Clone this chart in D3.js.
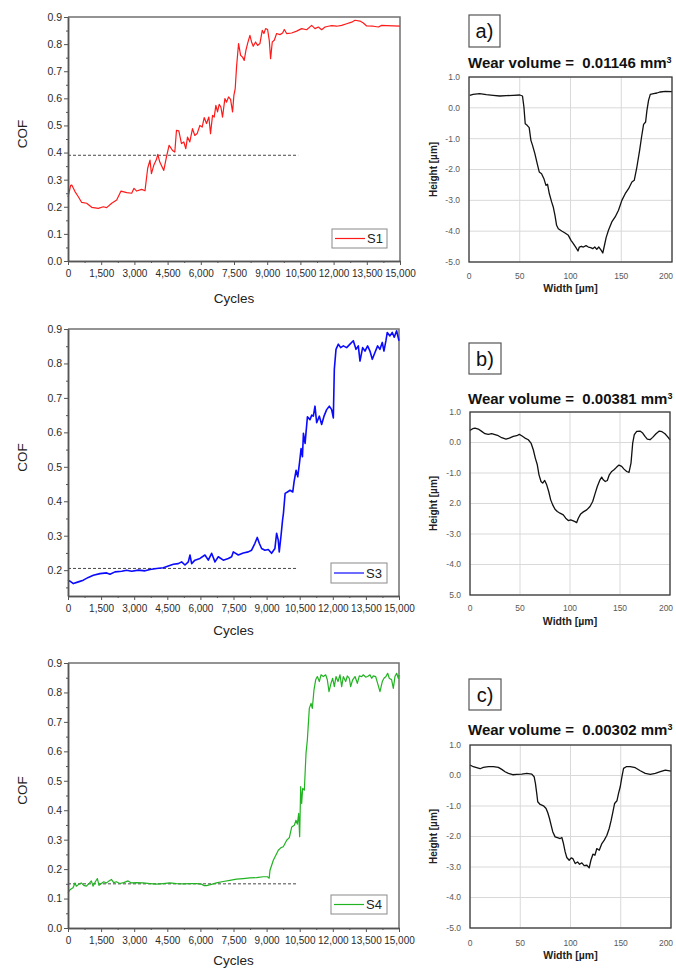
<!DOCTYPE html>
<html>
<head>
<meta charset="utf-8">
<script src="https://cdn.jsdelivr.net/npm/d3@7"></script>
<style>
  body { margin: 0; background: #fff; }
  svg { display: block; font-family: Arial, "Liberation Sans", sans-serif; }
</style>
</head>
<body>
<svg id="fig" width="676" height="969"></svg>
<script>
// ---------- tick definitions ----------
const cycleTicks = [0, 1500, 3000, 4500, 6000, 7500, 9000, 10500, 12000, 13500, 15000];
const cycleMinorTicks = [750, 2250, 3750, 5250, 6750, 8250, 9750, 11250, 12750, 14250];
const cofTicksFull = [0, 0.1, 0.2, 0.3, 0.4, 0.5, 0.6, 0.7, 0.8, 0.9];
const cofMinorFull = [0.05, 0.15, 0.25, 0.35, 0.45, 0.55, 0.65, 0.75, 0.85];
const cofTicksS3 = [0.2, 0.3, 0.4, 0.5, 0.6, 0.7, 0.8, 0.9];
const cofMinorS3 = [0.15, 0.25, 0.35, 0.45, 0.55, 0.65, 0.75, 0.85];

const heightTicks = [1, 0, -1, -2, -3, -4, -5];
const heightLabelsA = ["1.0", "0.0", "-1.0", "-2.0", "-3.0", "-4.0", "-5.0"];
const heightLabelsB = ["1.0", "0.0", "-1.0", "2.0", "-3.0", "-4.0", "5.0"];
const heightLabelsC = ["1.0", "0.0", "-1.0", "-2.0", "-3.0", "-4.0", "-5.0"];
const widthTicks = [0, 50, 100, 150, 200];

// ---------- series labels / reference levels ----------
const seriesNames = ["S1", "S3", "S4"];
const refLevels = [0.39, 0.205, 0.15];
const refEndCycle = 10400;
const panelTags = ["a)", "b)", "c)"];
const wearVolumes = ["0.01146", "0.00381", "0.00302"];

// ---------- COF vs cycles: [cycle, COF] ----------
const s1Data = [[0,0.236],[120,0.279],[170,0.280],[316,0.256],[467,0.237],[618,0.216],[843,0.213],[1070,0.198],[1370,0.194],[1595,0.200],[1748,0.197],[1974,0.213],[2200,0.225],[2395,0.258],[2652,0.252],[2878,0.250],[2982,0.268],[3103,0.258],[3329,0.264],[3479,0.259],[3600,0.342],[3705,0.372],[3770,0.322],[3875,0.353],[3996,0.374],[4057,0.393],[4147,0.365],[4328,0.334],[4449,0.384],[4569,0.427],[4720,0.408],[4826,0.402],[4901,0.482],[5007,0.480],[5127,0.433],[5233,0.439],[5323,0.414],[5399,0.457],[5504,0.439],[5625,0.488],[5730,0.463],[5836,0.470],[5957,0.500],[6062,0.494],[6153,0.529],[6258,0.507],[6364,0.531],[6439,0.470],[6530,0.537],[6605,0.531],[6681,0.574],[6756,0.550],[6831,0.578],[6907,0.568],[6982,0.531],[7088,0.599],[7163,0.586],[7254,0.605],[7344,0.596],[7435,0.550],[7495,0.611],[7555,0.636],[7615,0.716],[7706,0.802],[7797,0.759],[7887,0.752],[7962,0.740],[8038,0.777],[8113,0.802],[8219,0.832],[8294,0.808],[8369,0.792],[8475,0.808],[8565,0.795],[8671,0.802],[8777,0.851],[8852,0.839],[8927,0.857],[9018,0.854],[9093,0.814],[9154,0.746],[9229,0.808],[9320,0.814],[9425,0.839],[9576,0.835],[9697,0.841],[9772,0.854],[9878,0.839],[10104,0.841],[10330,0.848],[10556,0.857],[10783,0.853],[11009,0.869],[11160,0.857],[11310,0.863],[11461,0.853],[11612,0.863],[11763,0.866],[11913,0.868],[12139,0.866],[12364,0.869],[12590,0.875],[12816,0.881],[12967,0.888],[13193,0.885],[13343,0.878],[13494,0.867],[13795,0.866],[14021,0.863],[14172,0.869],[14398,0.868],[14699,0.867],[15000,0.866]];

const s3Data = [[0,0.171],[90,0.168],[242,0.161],[468,0.166],[695,0.171],[921,0.179],[1148,0.185],[1450,0.190],[1752,0.192],[1903,0.188],[2130,0.195],[2432,0.197],[2658,0.200],[2885,0.197],[3187,0.200],[3489,0.198],[3716,0.202],[4018,0.205],[4320,0.207],[4546,0.212],[4773,0.217],[4999,0.219],[5150,0.224],[5302,0.215],[5452,0.224],[5528,0.244],[5603,0.219],[5754,0.229],[5981,0.234],[6207,0.244],[6358,0.229],[6509,0.249],[6660,0.224],[6811,0.239],[7038,0.229],[7264,0.234],[7415,0.239],[7490,0.253],[7717,0.244],[7943,0.250],[8170,0.253],[8320,0.258],[8471,0.278],[8577,0.295],[8668,0.278],[8773,0.263],[8924,0.258],[9075,0.260],[9226,0.249],[9377,0.263],[9453,0.307],[9528,0.287],[9573,0.253],[9649,0.297],[9724,0.346],[9763,0.365],[9839,0.423],[9944,0.427],[10065,0.432],[10186,0.427],[10246,0.457],[10337,0.490],[10412,0.471],[10488,0.510],[10563,0.553],[10624,0.529],[10669,0.597],[10744,0.568],[10790,0.602],[10850,0.645],[10967,0.637],[11046,0.650],[11118,0.647],[11193,0.676],[11269,0.628],[11390,0.647],[11495,0.623],[11601,0.647],[11722,0.666],[11843,0.676],[11948,0.666],[12024,0.642],[12069,0.783],[12145,0.841],[12251,0.856],[12356,0.846],[12477,0.851],[12628,0.846],[12779,0.856],[12930,0.866],[13050,0.841],[13156,0.851],[13232,0.807],[13352,0.846],[13458,0.836],[13578,0.851],[13684,0.836],[13790,0.812],[13910,0.832],[14031,0.851],[14136,0.841],[14242,0.861],[14317,0.836],[14408,0.866],[14468,0.890],[14589,0.880],[14695,0.890],[14785,0.876],[14891,0.895],[15000,0.866]];

const s4Data = [[0,0.120],[106,0.131],[227,0.137],[318,0.153],[378,0.142],[499,0.149],[605,0.153],[711,0.145],[832,0.142],[953,0.151],[1058,0.160],[1134,0.142],[1240,0.157],[1331,0.168],[1406,0.145],[1512,0.151],[1618,0.157],[1739,0.153],[1860,0.160],[1966,0.165],[2071,0.154],[2192,0.157],[2344,0.151],[2525,0.154],[2722,0.160],[2873,0.153],[3100,0.154],[3402,0.153],[3704,0.151],[4007,0.149],[4309,0.151],[4612,0.153],[4914,0.151],[5216,0.150],[5519,0.151],[5821,0.151],[6048,0.149],[6154,0.144],[6275,0.144],[6502,0.148],[6728,0.153],[7031,0.158],[7333,0.162],[7636,0.166],[7938,0.168],[8240,0.170],[8543,0.171],[8845,0.174],[9040,0.174],[9117,0.169],[9154,0.196],[9305,0.230],[9531,0.264],[9653,0.273],[9756,0.276],[9911,0.298],[10030,0.307],[10137,0.343],[10257,0.349],[10332,0.366],[10393,0.353],[10453,0.389],[10498,0.310],[10544,0.480],[10589,0.423],[10635,0.474],[10710,0.468],[10786,0.593],[10846,0.638],[10936,0.746],[11013,0.763],[11072,0.746],[11148,0.809],[11224,0.843],[11299,0.854],[11390,0.837],[11465,0.860],[11571,0.854],[11677,0.860],[11752,0.843],[11828,0.803],[11918,0.831],[11994,0.848],[12069,0.820],[12145,0.854],[12236,0.837],[12326,0.860],[12402,0.820],[12477,0.854],[12583,0.837],[12658,0.856],[12749,0.848],[12809,0.820],[12900,0.843],[13006,0.854],[13112,0.831],[13202,0.856],[13308,0.854],[13383,0.860],[13489,0.852],[13579,0.854],[13685,0.860],[13760,0.848],[13836,0.856],[13941,0.854],[14032,0.831],[14138,0.803],[14243,0.837],[14319,0.848],[14409,0.854],[14485,0.865],[14560,0.848],[14666,0.843],[14742,0.814],[14817,0.854],[14893,0.865],[14968,0.848],[15000,0.860]];

// ---------- wear track profiles: [width µm, height µm] ----------
const profileA = [[0.7,0.405],[4,0.438],[10.5,0.459],[17.1,0.427],[23.7,0.405],[30.3,0.384],[36.9,0.395],[43.5,0.405],[50.1,0.416],[52.7,0.384],[54.1,0.027],[55.4,-0.514],[57.3,-0.568],[59.3,-0.643],[61,-1.054],[62.6,-1.216],[64.9,-1.486],[67.2,-1.81],[69.2,-2.08],[71.5,-2.135],[73.8,-2.297],[75.8,-2.514],[77.4,-2.48],[79.1,-2.78],[81.4,-3.05],[83,-3.216],[84.7,-3.486],[86.3,-3.81],[88,-3.92],[91.3,-3.995],[94.6,-4.06],[97.9,-4.135],[100.5,-4.297],[102.8,-4.405],[105.4,-4.535],[107.4,-4.643],[108.7,-4.514],[110.7,-4.49],[112.7,-4.514],[115.3,-4.47],[117.6,-4.514],[119.9,-4.535],[121.9,-4.568],[123.9,-4.514],[125.9,-4.589],[127.8,-4.514],[129.8,-4.6],[131.8,-4.708],[133.1,-4.514],[135.1,-4.211],[137.4,-3.97],[140.7,-3.70],[144,-3.54],[147.3,-3.324],[150.6,-3.0],[153.9,-2.784],[157.2,-2.622],[160.5,-2.405],[162.8,-2.35],[165.4,-1.919],[168.1,-1.378],[170,-0.946],[172,-0.535],[174,-0.459],[175.3,-0.081],[176.9,0.243],[178.6,0.438],[181.9,0.459],[185.2,0.481],[188.5,0.514],[193.4,0.535],[200,0.524]];

const profileB = [[0,0.398],[2.7,0.452],[5,0.474],[8.3,0.441],[11.7,0.365],[15,0.288],[18.3,0.266],[21.7,0.288],[25,0.255],[28.3,0.222],[31.7,0.157],[36,0.113],[39.3,0.146],[43.3,0.2],[46.7,0.222],[49.3,0.266],[51.7,0.222],[55,0.146],[58.3,0.091],[61,-0.019],[63.3,-0.238],[65.3,-0.511],[67.3,-0.731],[69,-1.06],[71,-1.278],[72.7,-1.333],[74.7,-1.245],[76.7,-1.388],[78.7,-1.607],[80.7,-1.881],[82.7,-2.045],[85,-2.187],[87.3,-2.264],[90,-2.318],[93.3,-2.373],[95.7,-2.483],[98.3,-2.56],[100.7,-2.538],[102.7,-2.56],[105,-2.593],[106.7,-2.626],[108.3,-2.483],[110.7,-2.341],[113.3,-2.275],[116.7,-2.209],[120,-2.1],[122.7,-1.935],[125,-1.683],[127.3,-1.442],[130,-1.223],[131.7,-1.136],[133.3,-1.223],[135.3,-1.278],[137.3,-1.245],[139.3,-1.06],[141.7,-0.95],[144,-0.895],[146.7,-0.807],[149,-0.741],[151.7,-0.785],[154,-0.873],[156.7,-0.95],[159,-0.982],[161,-0.676],[162.7,-0.019],[164.3,0.255],[166.7,0.365],[170,0.376],[172.7,0.31],[175,0.2],[177.3,0.113],[180,0.091],[182.7,0.168],[186,0.288],[189.3,0.376],[192,0.354],[195,0.288],[197.3,0.2],[200,0.091]];

const profileC = [[0,0.343],[3.3,0.288],[6.6,0.255],[10,0.222],[13.3,0.266],[18.3,0.288],[23.3,0.288],[28.2,0.266],[31.6,0.2],[34.9,0.124],[38.2,0.069],[42.5,0.025],[46.5,0.036],[51.5,0.047],[56.5,0.069],[61.5,0.047],[63.8,-0.04],[65.1,-0.26],[66.4,-0.588],[67.4,-0.862],[69.8,-0.95],[73.1,-0.993],[75.7,-1.08],[77.4,-1.223],[79.1,-1.41],[80.7,-1.63],[82.4,-1.85],[84.7,-2.012],[87,-2.034],[89.7,-2.067],[91.4,-2.034],[93,-2.23],[94.7,-2.505],[96.3,-2.69],[98.7,-2.779],[100.7,-2.7],[102.3,-2.724],[104.7,-2.888],[107,-2.833],[109,-2.91],[111.3,-2.866],[113.6,-2.954],[116.3,-2.943],[118.6,-3.03],[120.3,-2.779],[122.3,-2.58],[124.3,-2.614],[126.2,-2.395],[128.6,-2.45],[131.2,-2.23],[133.6,-2.12],[136.2,-1.957],[138.5,-1.738],[140.5,-1.464],[142.2,-1.19],[143.9,-0.917],[146.2,-0.829],[147.8,-0.588],[149.5,-0.369],[151.2,-0.04],[152.8,0.233],[155.5,0.288],[159.5,0.288],[164.5,0.255],[169.4,0.157],[174.4,0.069],[179.4,0.036],[184.4,0.069],[189.4,0.124],[194.4,0.178],[200,0.146]];

const svg = d3.select("#fig");
const pageWidth = +svg.attr("width");
const fmtCycles = d3.format(",");
const fmtCof = d3.format(".1f");

// ---------- COF panel ----------
function drawCof(p) {
  const g = svg.append("g");
  const x = d3.scaleLinear().domain([0, 15000]).range([p.left, p.right]);
  const y = d3.scaleLinear().domain(p.yDomain).range([p.bottom, p.top]);

  // top and right frame
  g.append("path")
    .attr("d", `M${p.left},${p.top}H${p.right}V${p.bottom}`)
    .attr("fill", "none").attr("stroke", "#707070").attr("stroke-width", 1.5);

  // reference level
  g.append("line")
    .attr("x1", x(0)).attr("x2", x(refEndCycle))
    .attr("y1", y(p.ref)).attr("y2", y(p.ref))
    .attr("stroke", "#333").attr("stroke-width", 0.9)
    .attr("stroke-dasharray", "3,2");

  // series
  const line = d3.line().x(d => x(d[0])).y(d => y(d[1]));
  g.append("path").datum(p.data)
    .attr("d", line).attr("fill", "none")
    .attr("stroke", p.color).attr("stroke-width", p.lineWidth)
    .attr("stroke-linejoin", "round");

  // axes
  const axStyle = sel => {
    sel.selectAll(".domain").attr("stroke", "#555").attr("stroke-width", 1.5);
    sel.selectAll(".tick line").attr("stroke", "#555").attr("stroke-width", 1);
    sel.selectAll("text").attr("fill", "#2a2a2a").attr("font-size", 10.5)
      .attr("font-family", 'Arial, "Liberation Sans", sans-serif');
  };
  g.append("g").attr("transform", `translate(${p.left},0)`)
    .call(d3.axisLeft(y).tickValues(p.yMinor).tickFormat("").tickSize(2).tickSizeOuter(0))
    .call(axStyle);
  g.append("g").attr("transform", `translate(${p.left},0)`)
    .call(d3.axisLeft(y).tickValues(p.yTicks).tickFormat(fmtCof).tickSize(4).tickPadding(2).tickSizeOuter(0))
    .call(axStyle);
  g.append("g").attr("transform", `translate(0,${p.bottom})`)
    .call(d3.axisBottom(x).tickValues(cycleMinorTicks).tickFormat("").tickSize(2).tickSizeOuter(0))
    .call(axStyle);
  g.append("g").attr("transform", `translate(0,${p.bottom})`)
    .call(d3.axisBottom(x).tickValues(cycleTicks).tickFormat(fmtCycles).tickSize(4).tickPadding(5).tickSizeOuter(0))
    .call(axStyle)
    .call(sel => sel.selectAll("text").attr("font-size", 10));

  // axis titles
  g.append("text")
    .attr("x", (p.left + p.right) / 2).attr("y", p.cyclesY)
    .attr("text-anchor", "middle").attr("dy", "0.35em")
    .attr("font-size", 13.5).attr("fill", "#222").text("Cycles");
  g.append("text")
    .attr("transform", `translate(22,${(p.top + p.bottom) / 2 - 5}) rotate(-90)`)
    .attr("text-anchor", "middle").attr("dy", "0.35em")
    .attr("font-size", 13.5).attr("fill", "#222").text("COF");

  // legend
  const [lx, ly, lw, lh] = p.legend;
  g.append("rect").attr("x", lx).attr("y", ly).attr("width", lw).attr("height", lh)
    .attr("fill", "#fff").attr("stroke", "#8a8a8a").attr("stroke-width", 1);
  g.append("line").attr("x1", lx + 3).attr("x2", lx + 33)
    .attr("y1", ly + lh / 2).attr("y2", ly + lh / 2)
    .attr("stroke", p.color).attr("stroke-width", 1.2);
  g.append("text").attr("x", lx + 35).attr("y", ly + lh / 2).attr("dy", "0.36em")
    .attr("font-size", 13).attr("fill", "#222").text(p.name);
}

// ---------- profile panel ----------
function drawProfile(p) {
  const g = svg.append("g");
  const x = d3.scaleLinear().domain([0, 200]).range([p.left, p.right]);
  const y = d3.scaleLinear().domain([-5, 1]).range([p.bottom, p.top]);

  // gridlines
  g.selectAll(".hg").data(heightTicks).join("line")
    .attr("x1", p.left).attr("x2", p.right)
    .attr("y1", d => y(d)).attr("y2", d => y(d))
    .attr("stroke", "#d9d9d9").attr("stroke-width", 1);
  g.selectAll(".vg").data(widthTicks).join("line")
    .attr("y1", p.top).attr("y2", p.bottom)
    .attr("x1", d => x(d)).attr("x2", d => x(d))
    .attr("stroke", "#d9d9d9").attr("stroke-width", 1);

  // profile line
  const line = d3.line().x(d => x(d[0])).y(d => y(d[1]));
  g.append("path").datum(p.data).attr("d", line)
    .attr("fill", "none").attr("stroke", "#111").attr("stroke-width", 1.3)
    .attr("stroke-linejoin", "round");

  // frame
  g.append("rect").attr("x", p.left).attr("y", p.top)
    .attr("width", p.right - p.left).attr("height", p.bottom - p.top)
    .attr("fill", "none").attr("stroke", "#3a3a3a").attr("stroke-width", 1.3);

  // tick labels
  g.selectAll(".yl").data(heightTicks).join("text")
    .attr("x", p.left - 9).attr("y", d => y(d)).attr("dy", "0.35em")
    .attr("text-anchor", "end").attr("font-size", 8.5).attr("fill", "#595959")
    .text((d, i) => p.yLabels[i]);
  // the last width label is nudged so it stays on the page
  g.selectAll(".xl").data(widthTicks).join("text")
    .attr("x", d => Math.min(x(d), pageWidth - 10)).attr("y", p.xLabelY).attr("dy", "0.35em")
    .attr("text-anchor", "middle").attr("font-size", 8.5).attr("fill", "#595959")
    .text(d => d);

  // axis titles
  g.append("text")
    .attr("transform", `translate(433,${(p.top + p.bottom) / 2}) rotate(-90)`)
    .attr("text-anchor", "middle").attr("dy", "0.35em")
    .attr("font-size", 10).attr("font-weight", "bold").attr("fill", "#222")
    .text("Height [µm]");
  g.append("text")
    .attr("x", (p.left + p.right) / 2).attr("y", p.widthY).attr("dy", "0.35em")
    .attr("text-anchor", "middle").attr("font-size", 10.5).attr("font-weight", "bold").attr("fill", "#222")
    .text("Width [µm]");

  // panel tag
  const [bx, by, bw, bh] = p.box;
  g.append("rect").attr("x", bx).attr("y", by).attr("width", bw).attr("height", bh)
    .attr("fill", "#fff").attr("stroke", "#555").attr("stroke-width", 1.2);
  g.append("text").attr("x", bx + bw / 2).attr("y", by + bh / 2).attr("dy", "0.36em")
    .attr("text-anchor", "middle").attr("font-size", 20).attr("fill", "#111").text(p.tag);

  // wear volume title
  const t = g.append("text").attr("x", 468).attr("y", p.titleY).attr("dy", "0.36em")
    .attr("font-size", 15).attr("font-weight", "bold").attr("fill", "#111")
    .style("white-space", "pre");
  t.append("tspan").text(`Wear volume =  ${p.volume} mm`);
  t.append("tspan").attr("font-size", 9).attr("dy", "-0.55em").text("3");
}

drawCof({ left: 68, right: 400, top: 17, bottom: 261, yDomain: [0, 0.9],
  yTicks: cofTicksFull, yMinor: cofMinorFull, data: s1Data, color: "#ff1a1a", lineWidth: 1.2,
  ref: refLevels[0], name: seriesNames[0], legend: [332, 229, 55, 19], cyclesY: 298 });
drawCof({ left: 68, right: 399, top: 329, bottom: 596, yDomain: [0.125, 0.9],
  yTicks: cofTicksS3, yMinor: cofMinorS3, data: s3Data, color: "#0a0aff", lineWidth: 1.6,
  ref: refLevels[1], name: seriesNames[1], legend: [331, 563, 56, 20], cyclesY: 630 });
drawCof({ left: 68, right: 399, top: 663, bottom: 928, yDomain: [0, 0.9],
  yTicks: cofTicksFull, yMinor: cofMinorFull, data: s4Data, color: "#22b322", lineWidth: 1.2,
  ref: refLevels[2], name: seriesNames[2], legend: [331, 895, 56, 19], cyclesY: 960 });

drawProfile({ left: 469, right: 672, top: 77, bottom: 262, data: profileA, yLabels: heightLabelsA,
  xLabelY: 276, widthY: 288, box: [469, 15, 31, 32], tag: panelTags[0], titleY: 63, volume: wearVolumes[0] });
drawProfile({ left: 470, right: 670, top: 412, bottom: 595, data: profileB, yLabels: heightLabelsB,
  xLabelY: 608, widthY: 621, box: [469, 343, 32, 31], tag: panelTags[1], titleY: 399, volume: wearVolumes[1] });
drawProfile({ left: 470, right: 671, top: 745, bottom: 928, data: profileC, yLabels: heightLabelsC,
  xLabelY: 943, widthY: 955, box: [469, 679, 32, 31], tag: panelTags[2], titleY: 730, volume: wearVolumes[2] });
</script>
</body>
</html>
